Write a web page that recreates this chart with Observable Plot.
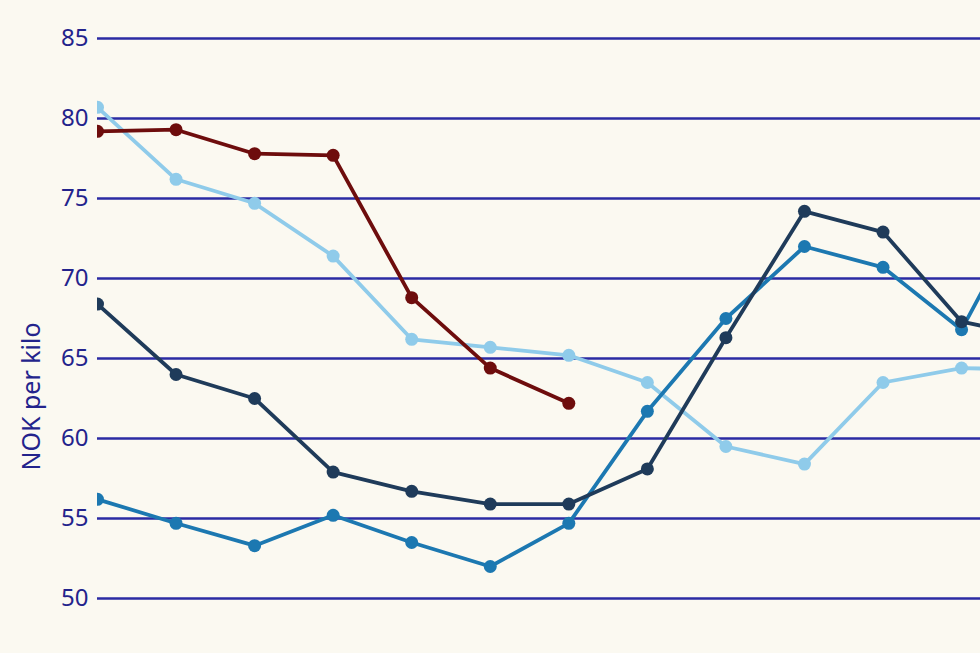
<!DOCTYPE html>
<html>
<head>
<meta charset="utf-8">
<script src="https://cdn.jsdelivr.net/npm/d3@7"></script>
<script src="https://cdn.jsdelivr.net/npm/@observablehq/plot@0.6"></script>
<style>
  html, body { margin: 0; padding: 0; background: #fbf9f1; }
  #chart svg { display: block; }
</style>
</head>
<body>
<div id="chart"></div>
<script>
// Period index (x positions); the last one lies past the cropped right edge
const periods = [0, 1, 2, 3, 4, 5, 6, 7, 8, 9, 10, 11, 12];
const yTicks = [50, 55, 60, 65, 70, 75, 80, 85];
const yLabel = "NOK per kilo";

const seriesDarkRed   = [79.2, 79.3, 77.8, 77.7, 68.8, 64.4, 62.2];
const seriesLightBlue = [80.7, 76.2, 74.7, 71.4, 66.2, 65.7, 65.2, 63.5, 59.5, 58.4, 63.5, 64.4, 64.3];
const seriesNavy      = [68.4, 64.0, 62.5, 57.9, 56.7, 55.9, 55.9, 58.1, 66.3, 74.2, 72.9, 67.3, 66.3];
const seriesMidBlue   = [56.2, 54.7, 53.3, 55.2, 53.5, 52.0, 54.7, 61.7, 67.5, 72.0, 70.7, 66.8, 76.0];

const colors = {
  darkred: "#6e0d0d",
  light: "#8fcbea",
  navy: "#1f3b5a",
  mid: "#1c78b1"
};

function toRows(vals, key) {
  return vals.map((v, i) => ({x: periods[i], y: v, s: key}));
}
const seriesList = [
  {key: "light", vals: seriesLightBlue},
  {key: "mid", vals: seriesMidBlue},
  {key: "navy", vals: seriesNavy},
  {key: "darkred", vals: seriesDarkRed}
];

const marks = [
  Plot.ruleY(yTicks, {stroke: "#2b2ba3", strokeWidth: 2.4}),
  Plot.axisY(yTicks, {tickSize: 0, tickPadding: 9, fontSize: 24, fill: "#23238c", label: null}),
  Plot.text([yLabel], {frameAnchor: "left", textAnchor: "middle", rotate: -90, dx: -66, dy: 78, fontSize: 25, fill: "#23238c"})
];
for (const s of seriesList) {
  const rows = toRows(s.vals, s.key);
  marks.push(Plot.line(rows, {x: "x", y: "y", stroke: colors[s.key], strokeWidth: 3.8, clip: true}));
  marks.push(Plot.dot(rows, {x: "x", y: "y", fill: colors[s.key], r: 6.5, clip: true}));
}

const chart = Plot.plot({
  width: 980,
  height: 653,
  marginLeft: 97,
  marginRight: 0,
  marginTop: 38,
  marginBottom: 55,
  style: {background: "#fbf9f1", fontFamily: "'Noto Sans', sans-serif", overflow: "hidden"},
  x: {domain: [0, 11.241], axis: null},
  y: {domain: [50, 85], axis: null},
  marks
});
document.getElementById("chart").appendChild(chart);
</script>
</body>
</html>
